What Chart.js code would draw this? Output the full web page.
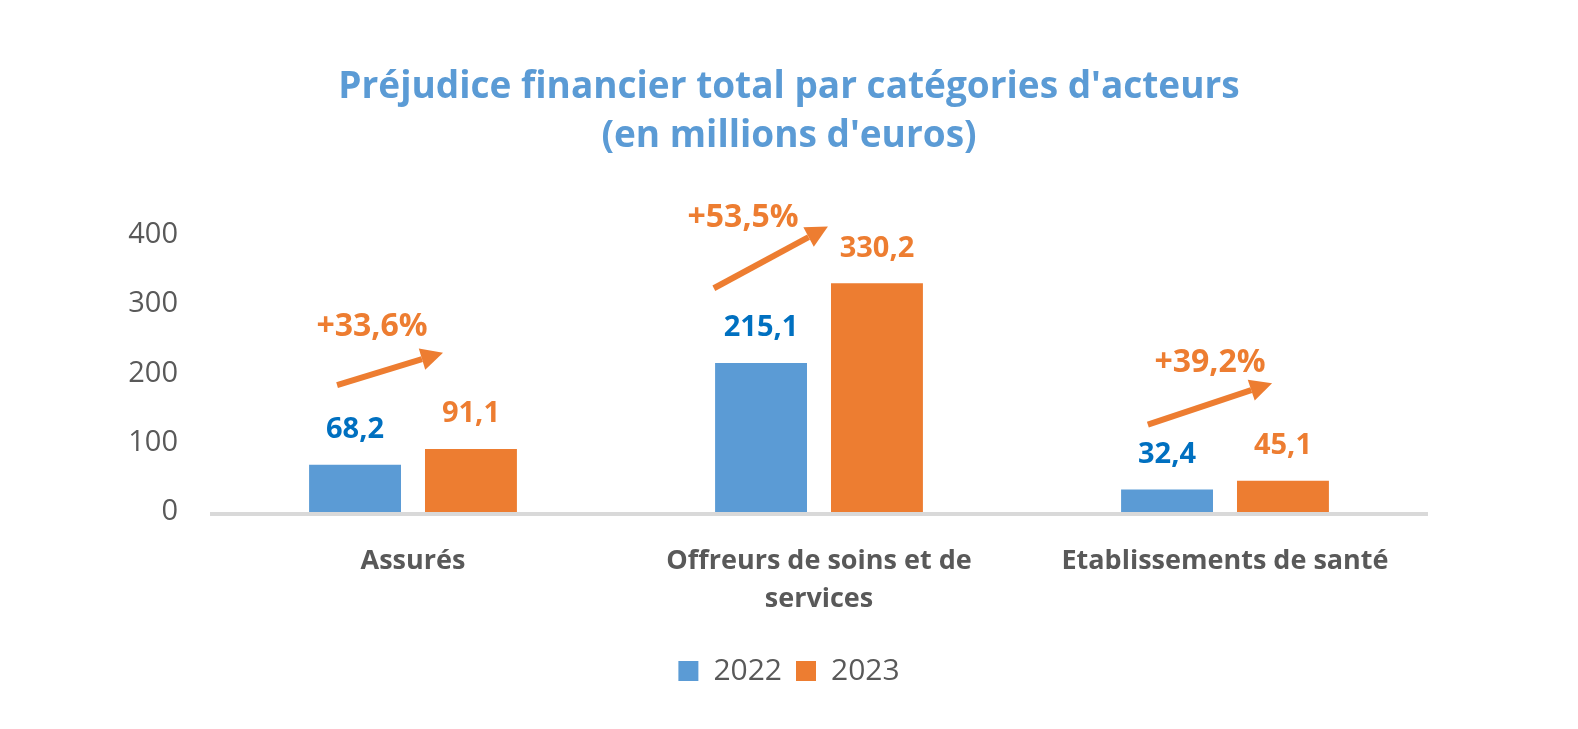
<!DOCTYPE html>
<html>
<head>
<meta charset="utf-8">
<script src="https://cdn.jsdelivr.net/npm/chart.js@4.4.1/dist/chart.umd.min.js"></script>
<style>
  html, body { margin: 0; padding: 0; background: #fff; }
  #wrap { width: 1578px; height: 729px; }
</style>
</head>
<body>
<div id="wrap"><canvas id="chart"></canvas></div>
<script>
// values
const categories = ['Assurés', ['Offreurs de soins et de', 'services'], 'Etablissements de santé'];
const years = ['2022', '2023'];
const values2022 = [68.2, 215.1, 32.4];
const values2023 = [91.1, 330.2, 45.1];
const growthLabels = ['+33,6%', '+53,5%', '+39,2%'];
const yTicks = [0, 100, 200, 300, 400];

// where the growth arrows sit, as [category index, axis value]
const arrowFrom = [[-0.187, 183], [0.741, 323], [1.81, 126]];
const arrowTo = [[0.074, 230], [1.022, 412], [2.116, 186]];
const growthAt = [[-0.101, 267], [0.813, 425], [1.963, 215]];

const BLUE = '#5B9BD5';
const ORANGE = '#ED7D31';
const GREY = '#595959';
const FONT = 'Open Sans';

function fmt(v) {
  return v.toFixed(1).replace('.', ',');
}

// axis line under the bars
const axisLine = {
  id: 'axisLine',
  beforeDatasetsDraw(chart) {
    const { ctx, chartArea } = chart;
    ctx.save();
    ctx.strokeStyle = '#D9D9D9';
    ctx.lineWidth = 4;
    ctx.beginPath();
    ctx.moveTo(chartArea.left, chartArea.bottom + 2);
    ctx.lineTo(chartArea.right, chartArea.bottom + 2);
    ctx.stroke();
    ctx.restore();
  }
};

// value labels above each bar
const barLabels = {
  id: 'barLabels',
  afterDatasetsDraw(chart) {
    const ctx = chart.ctx;
    const colors = ['#0070C0', ORANGE];
    ctx.save();
    ctx.font = 'bold 29px "' + FONT + '"';
    ctx.textAlign = 'center';
    ctx.textBaseline = 'middle';
    chart.data.datasets.forEach((ds, i) => {
      ctx.fillStyle = colors[i];
      chart.getDatasetMeta(i).data.forEach((bar, j) => {
        ctx.fillText(fmt(ds.data[j]), bar.x, bar.y - 35);
      });
    });
    ctx.restore();
  }
};

// orange growth arrows with their percentages
const growthArrows = {
  id: 'growthArrows',
  afterDatasetsDraw(chart) {
    const ctx = chart.ctx;
    const xs = chart.scales.x, ys = chart.scales.y;
    ctx.save();
    ctx.fillStyle = ORANGE;
    ctx.strokeStyle = ORANGE;
    for (let i = 0; i < growthLabels.length; i++) {
      const x1 = xs.getPixelForValue(arrowFrom[i][0]), y1 = ys.getPixelForValue(arrowFrom[i][1]);
      const x2 = xs.getPixelForValue(arrowTo[i][0]), y2 = ys.getPixelForValue(arrowTo[i][1]);
      const a = Math.atan2(y2 - y1, x2 - x1);
      const head = 22, half = 11;
      const bx = x2 - head * Math.cos(a), by = y2 - head * Math.sin(a);
      ctx.lineWidth = 6;
      ctx.beginPath();
      ctx.moveTo(x1, y1);
      ctx.lineTo(bx, by);
      ctx.stroke();
      ctx.beginPath();
      ctx.moveTo(x2, y2);
      ctx.lineTo(bx + half * Math.sin(a), by - half * Math.cos(a));
      ctx.lineTo(bx - half * Math.sin(a), by + half * Math.cos(a));
      ctx.closePath();
      ctx.fill();

      ctx.font = 'bold 32px "' + FONT + '"';
      ctx.textAlign = 'center';
      ctx.textBaseline = 'middle';
      ctx.fillText(growthLabels[i], xs.getPixelForValue(growthAt[i][0]), ys.getPixelForValue(growthAt[i][1]));
    }
    ctx.restore();
  }
};

new Chart(document.getElementById('chart'), {
  type: 'bar',
  data: {
    labels: categories,
    datasets: [
      { label: years[0], data: values2022, backgroundColor: BLUE },
      { label: years[1], data: values2023, backgroundColor: ORANGE }
    ]
  },
  options: {
    responsive: true,
    maintainAspectRatio: false,
    animation: false,
    devicePixelRatio: 1,
    layout: { padding: { left: 0, right: 0, top: 0, bottom: 33 } },
    datasets: { bar: { categoryPercentage: 0.571, barPercentage: 0.793 } },
    scales: {
      x: {
        grid: { display: false, drawTicks: false },
        border: { display: false },
        ticks: {
          color: GREY,
          padding: 30,
          font: { family: FONT, size: 27, weight: 'bold', lineHeight: 1.42 },
          maxRotation: 0,
          autoSkip: false
        },
        afterFit(scale) { scale.height = 130; }
      },
      y: {
        min: 0,
        max: 400,
        afterBuildTicks(scale) { scale.ticks = yTicks.map(v => ({ value: v })); },
        grid: { display: false, drawTicks: false },
        border: { display: false },
        ticks: {
          color: GREY,
          padding: 32,
          font: { family: FONT, size: 29 }
        },
        afterFit(scale) { scale.width = 210; }
      },
      // empty right-hand axis, only keeps the plot where it is in the picture
      yRight: {
        position: 'right',
        min: 0,
        max: 400,
        grid: { display: false, drawTicks: false },
        border: { display: false },
        ticks: { display: false },
        afterFit(scale) { scale.width = 150; }
      }
    },
    plugins: {
      title: {
        display: true,
        text: ["Préjudice financier total par catégories d'acteurs", "(en millions d'euros)"],
        color: BLUE,
        font: { family: FONT, size: 37, weight: 'bold', lineHeight: 1.35 },
        padding: { top: 62, bottom: 73 }
      },
      legend: {
        position: 'bottom',
        labels: {
          color: GREY,
          boxWidth: 20,
          boxHeight: 20,
          padding: 14,
          font: { family: FONT, size: 30 }
        }
      },
      tooltip: { enabled: false }
    }
  },
  plugins: [axisLine, barLabels, growthArrows]
});
</script>
</body>
</html>
